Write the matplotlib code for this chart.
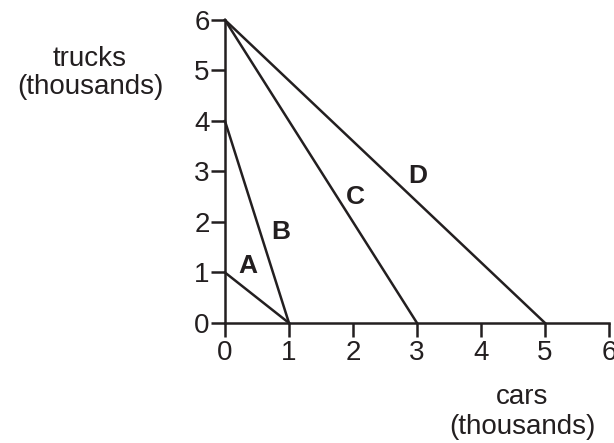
import matplotlib
matplotlib.use("Agg")
import matplotlib.pyplot as plt

plt.rcParams['font.family'] = ['Liberation Sans', 'DejaVu Sans']

# lines: (x intercept, y intercept) in thousands
names = ['A', 'B', 'C', 'D']
x_int = [1, 1, 3, 5]
y_int = [1, 4, 6, 6]
# label positions
lab_x = [0.35, 0.87, 2.04, 3.01]
lab_y = [1.13, 1.8, 2.5, 2.92]

ticks = [0, 1, 2, 3, 4, 5, 6]

fig = plt.figure(figsize=(6.14, 4.43), dpi=100)
ax = fig.add_axes([0.3664, 0.2709, 0.6255, 0.684])

for n, xi, yi, lx, ly in zip(names, x_int, y_int, lab_x, lab_y):
    ax.plot([0, xi], [yi, 0], color='#231f20', lw=1.8, clip_on=False)
    ax.text(lx, ly, n, fontsize=19, fontweight='bold', ha='center', va='center', color='#231f20')

ax.set_xlim(0, 6)
ax.set_ylim(0, 6)
ax.set_xticks(ticks)
ax.set_yticks(ticks)
ax.tick_params(direction='out', length=10, width=1.8, labelsize=20, colors='#231f20')
ax.tick_params(axis='x', pad=2)
ax.tick_params(axis='y', pad=1)
for s in ['top', 'right']:
    ax.spines[s].set_visible(False)
for s in ['left', 'bottom']:
    ax.spines[s].set_linewidth(1.8)
    ax.spines[s].set_color('#231f20')

fig.text(90 / 614, 1 - 73 / 443, 'trucks\n(thousands)', fontsize=20, ha='center', va='center',
         color='#231f20', linespacing=1.15)
fig.text(522 / 614, 1 - 412 / 443, 'cars\n(thousands)', fontsize=20, ha='center', va='center',
         color='#231f20', linespacing=1.15)

fig.savefig('out.png', dpi=100)
